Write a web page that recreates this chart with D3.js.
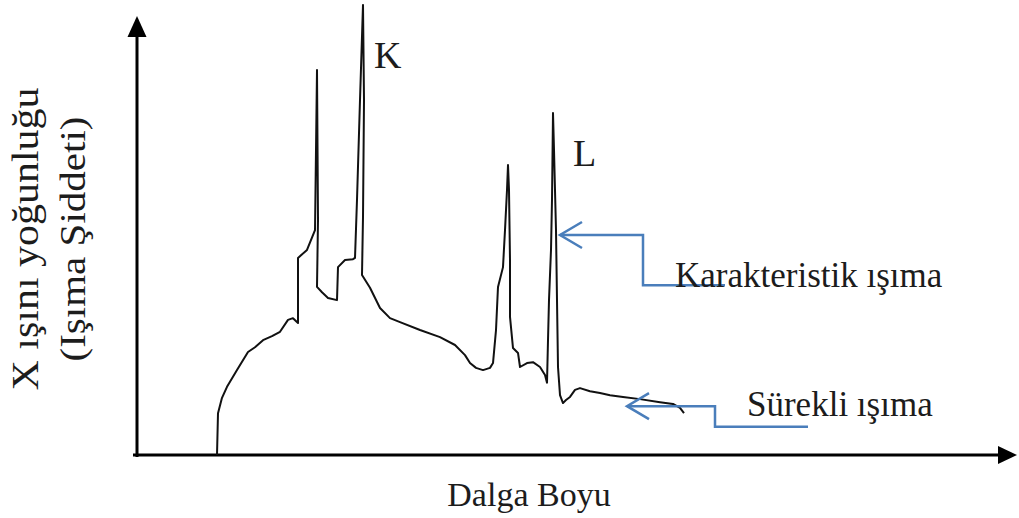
<!DOCTYPE html>
<html>
<head>
<meta charset="utf-8">
<script src="https://cdn.jsdelivr.net/npm/d3@7"></script>
<style>
  body { margin: 0; background: #fff; }
  svg { display: block; }
</style>
</head>
<body>
<svg id="chart"></svg>
<script>
// spectrum (arbitrary units)
const wavelength = [
  8.0, 8.1, 8.5, 9.0, 10.0, 11.1, 11.8, 12.6, 13.5, 14.3, 15.1, 15.6, 16.1, 16.1, 17.0, 17.8,
  18.0, 18.1, 18.0, 18.5, 19.1, 20.0, 20.1, 20.8, 21.6, 21.8, 22.0, 22.3, 22.6, 22.7, 22.6, 22.5,
  23.3, 24.3, 25.3, 26.3, 28.3, 30.3, 31.8, 32.8, 33.3, 33.9, 34.6, 35.3, 35.6, 35.9, 36.1, 36.6,
  36.8, 37.0, 37.1, 37.2, 37.3, 37.3, 37.6, 38.1, 38.3, 39.0, 39.6, 40.3, 40.8, 41.0, 41.1, 41.2,
  41.4, 41.5, 41.6, 41.7, 41.9, 42.0, 42.1, 42.3, 42.6, 42.9, 43.3, 43.8, 44.3, 45.3, 46.3, 47.3,
  48.6, 50.3, 52.3, 53.6, 54.3, 54.7
];
const intensity = [
  0.0, 9.5, 13.0, 15.5, 19.3, 23.4, 24.5, 26.1, 27.0, 28.0, 30.7, 31.1, 30.0, 44.8, 46.6, 51.1,
  87.5, 53.4, 38.2, 37.0, 35.7, 35.2, 42.7, 44.3, 44.5, 44.8, 58.0, 80.7, 102.3, 80.7, 54.1, 40.9,
  38.0, 33.4, 31.1, 30.2, 28.4, 26.8, 25.0, 22.7, 20.9, 19.8, 19.3, 19.8, 20.9, 28.4, 38.2, 42.7,
  51.1, 60.2, 65.9, 60.2, 44.3, 31.4, 24.3, 23.2, 20.0, 20.9, 21.1, 20.0, 18.2, 16.4, 26.1, 35.2,
  46.6, 58.0, 77.7, 69.3, 51.1, 35.2, 20.0, 13.6, 11.8, 12.5, 13.2, 14.8, 15.2, 14.5, 14.1, 13.6,
  13.2, 12.7, 12.0, 11.6, 10.7, 9.5
];

// peak labels
const peakNames = ["K", "L"];
const peakLabelAt = [[23.7, 88.0], [43.6, 65.7]];

// callouts: elbow arrow path (wavelength, intensity) and text
const calloutNames = ["Karakteristik ışıma", "Sürekli ışıma"];
const calloutPaths = [
  [[42.3, 50.0], [50.6, 50.0], [50.6, 38.6], [58.8, 38.6]],
  [[49.0, 11.1], [57.8, 11.1], [57.8, 6.4], [67.1, 6.4]]
];
const calloutTextAt = [[53.8, 38.2], [61.0, 8.9]];

const xTitle = "Dalga Boyu";
const yTitle = ["X ışını yoğunluğu", "(Işıma Şiddeti)"];

const width = 1019, height = 518;
const serif = "'Liberation Serif', 'Times New Roman', serif";
const ink = "#1c1c1c";
const blue = "#4a7ebb";

const svg = d3.select("#chart").attr("width", width).attr("height", height);

const x = d3.scaleLinear().domain([0, 88]).range([137, 1017]);
const y = d3.scaleLinear().domain([0, 100]).range([455, 15]);

// axes with arrow heads
const [x0, x1] = x.range();
const [y0, y1] = y.range();
svg.append("line")
  .attr("x1", x0 - 4).attr("x2", x1 - 16)
  .attr("y1", y(0)).attr("y2", y(0))
  .attr("stroke", "#000").attr("stroke-width", 3);
svg.append("path")
  .attr("d", `M${x1},${y(0)} L${x1 - 19},${y(0) - 9} L${x1 - 19},${y(0) + 9} Z`)
  .attr("fill", "#000");
svg.append("line")
  .attr("x1", x(0)).attr("x2", x(0))
  .attr("y1", y0 + 2).attr("y2", y1 + 18)
  .attr("stroke", "#000").attr("stroke-width", 3);
svg.append("path")
  .attr("d", `M${x(0)},${y1 + 1} L${x(0) - 9.5},${y1 + 22} L${x(0) + 9.5},${y1 + 22} Z`)
  .attr("fill", "#000");

// spectrum line
const spectrum = wavelength.map((w, i) => [w, intensity[i]]);
const line = d3.line().x(d => x(d[0])).y(d => y(d[1]));
svg.append("path")
  .datum(spectrum)
  .attr("d", line)
  .attr("fill", "none")
  .attr("stroke", "#111")
  .attr("stroke-width", 2)
  .attr("stroke-linejoin", "round");

// peak labels
svg.selectAll("text.peak")
  .data(peakNames)
  .enter()
  .append("text")
  .attr("class", "peak")
  .attr("x", (d, i) => x(peakLabelAt[i][0]))
  .attr("y", (d, i) => y(peakLabelAt[i][1]))
  .text(d => d)
  .style("font-family", serif)
  .style("font-size", "38px")
  .style("fill", ink);

// callout arrows
calloutPaths.forEach((pts, i) => {
  svg.append("path")
    .datum(pts)
    .attr("d", line)
    .attr("fill", "none")
    .attr("stroke", blue)
    .attr("stroke-width", 2.5);
  const tx = x(pts[0][0]), ty = y(pts[0][1]);
  svg.append("path")
    .attr("d", `M${tx + 22},${ty - 13} L${tx},${ty} L${tx + 22},${ty + 13}`)
    .attr("fill", "none")
    .attr("stroke", blue)
    .attr("stroke-width", 2.5);
  svg.append("text")
    .attr("x", x(calloutTextAt[i][0]))
    .attr("y", y(calloutTextAt[i][1]))
    .text(calloutNames[i])
    .style("font-family", serif)
    .style("font-size", "35px")
    .style("fill", ink);
});

// axis titles
svg.append("text")
  .attr("x", 529).attr("y", 506)
  .attr("text-anchor", "middle")
  .text(xTitle)
  .style("font-family", serif)
  .style("font-size", "34px")
  .style("fill", ink);

const yTitleBase = [38, 85];
const yTitleSize = [38, 35];
const yTitleLen = [303, 245];
yTitle.forEach((t, i) => {
  svg.append("text")
    .attr("transform", `translate(${yTitleBase[i]},239) rotate(-90)`)
    .attr("text-anchor", "middle")
    .attr("textLength", yTitleLen[i])
    .attr("lengthAdjust", "spacingAndGlyphs")
    .text(t)
    .style("font-family", serif)
    .style("font-size", yTitleSize[i] + "px")
    .style("fill", ink);
});
</script>
</body>
</html>
